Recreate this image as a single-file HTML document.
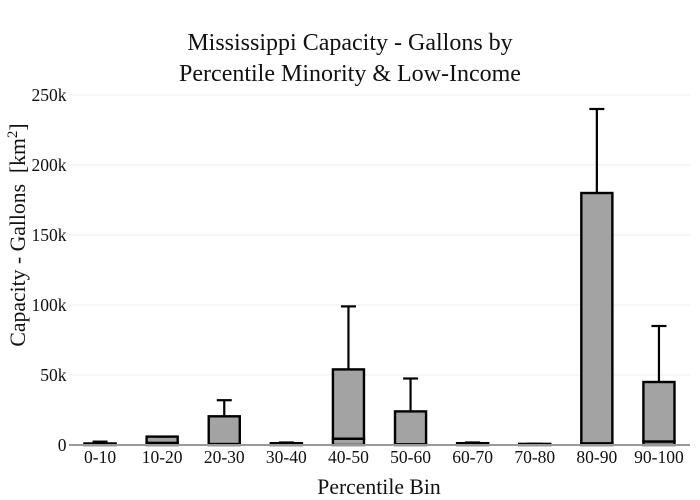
<!DOCTYPE html>
<html>
<head>
<meta charset="utf-8">
<style>
html,body{margin:0;padding:0;background:#fff;}
svg{display:block;}
text{font-family:"Liberation Serif","Times New Roman",serif;fill:#111;}
</style>
</head>
<body>
<svg id="chart" xmlns="http://www.w3.org/2000/svg" width="700" height="500" viewBox="0 0 700 500">
  <rect width="700" height="500" fill="#fff"/>
  <g id="grid"></g>
  <g id="bars"></g>
  <g id="errs"></g>
  <g id="yticks"></g>
  <g id="xticks"></g>
  <text x="350" y="50" text-anchor="middle" font-size="24">Mississippi Capacity - Gallons by</text>
  <text x="350" y="81" text-anchor="middle" font-size="24">Percentile Minority &amp; Low-Income</text>
  <text x="379" y="494" text-anchor="middle" font-size="21.7">Percentile Bin</text>
  <text transform="translate(25,235) rotate(-90)" text-anchor="middle" font-size="21.7" xml:space="preserve">Capacity - Gallons  [km<tspan dy="-8" font-size="15">2</tspan><tspan dy="8">]</tspan></text>
</svg>
<script>
var categories = ['0-10','10-20','20-30','30-40','40-50','50-60','60-70','70-80','80-90','90-100'];
var lowerValues = [400, 1500, 700, 300, 4500, 500, 300, 200, 1200, 2500];
var totalValues = [1100, 6000, 20500, 1300, 54000, 24000, 1300, 800, 180000, 45000];
var errorTops = [2400, 6000, 32000, 1800, 99000, 47500, 1800, 900, 240000, 85000];
var yTickValues = [0, 50000, 100000, 150000, 200000, 250000];
var yTickLabels = ['0', '50k', '100k', '150k', '200k', '250k'];

var NS = 'http://www.w3.org/2000/svg';
var plotLeft = 69, plotRight = 690, plotTop = 95, plotBottom = 445, yMax = 250000;
function yScale(v) { return plotBottom - (v / yMax) * (plotBottom - plotTop); }
function band() { return (plotRight - plotLeft) / categories.length; }
function xScale(i) { return plotLeft + band() * (i + 0.5); }
function make(tag, attrs, parent) {
  var el = document.createElementNS(NS, tag);
  for (var k in attrs) el.setAttribute(k, attrs[k]);
  parent.appendChild(el);
  return el;
}
var grid = document.getElementById('grid');
var bars = document.getElementById('bars');
var errs = document.getElementById('errs');
var yticks = document.getElementById('yticks');
var xticks = document.getElementById('xticks');

yTickValues.forEach(function (v, i) {
  if (v !== 0) {
    var g = make('line', {x1: plotLeft, x2: plotRight, y1: yScale(v), y2: yScale(v), stroke: '#eee', 'stroke-width': 1}, grid);
    
    
  }
  var t = make('text', {x: 66.5, y: yScale(v) + 6, 'text-anchor': 'end', 'font-size': 17.5}, yticks);
  
  
  t.textContent = yTickLabels[i];
});

categories.forEach(function (c, i) {
  var cx = xScale(i), w = band() * 0.5, x = cx - w / 2;
  var lower = make('rect', {x: x, y: yScale(lowerValues[i]), width: w, height: yScale(0) - yScale(lowerValues[i]), fill: '#a3a3a3', stroke: '#000', 'stroke-width': 2.4}, bars);
  
  
  var upper = make('rect', {x: x, y: yScale(totalValues[i]), width: w, height: yScale(lowerValues[i]) - yScale(totalValues[i]), fill: '#a3a3a3', stroke: '#000', 'stroke-width': 2.4}, bars);
  
  
  var stem = make('line', {x1: cx, x2: cx, y1: yScale(totalValues[i]), y2: yScale(errorTops[i]), stroke: '#000', 'stroke-width': 2.2}, errs);
  
  
  var cap = make('line', {x1: cx - 7.5, x2: cx + 7.5, y1: yScale(errorTops[i]), y2: yScale(errorTops[i]), stroke: '#000', 'stroke-width': 2.2}, errs);
  
  
  var t = make('text', {x: cx, y: 463, 'text-anchor': 'middle', 'font-size': 17.5}, xticks);
  
  
  t.textContent = c;
});

var axis = make('line', {x1: plotLeft, x2: plotRight, y1: yScale(0), y2: yScale(0), stroke: '#999', 'stroke-width': 2}, document.getElementById('chart'));


</script>
</body>
</html>
